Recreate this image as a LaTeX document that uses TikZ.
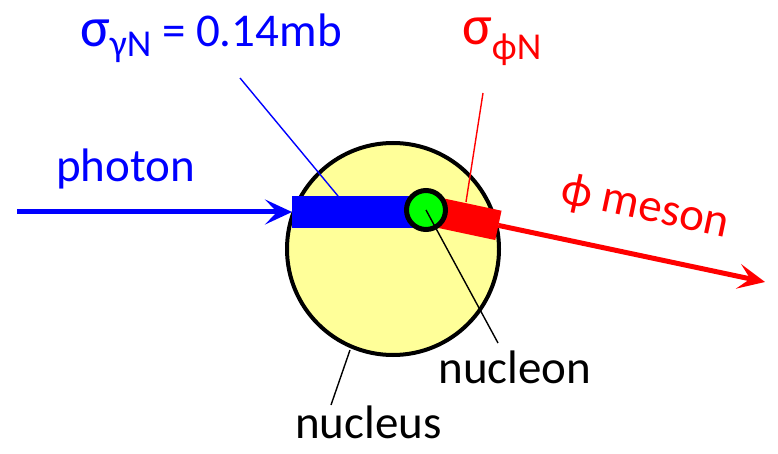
\documentclass[tikz,border=0pt]{standalone}
\usepackage{fontspec}
\setmainfont{Carlito}
\usetikzlibrary{arrows.meta}
\definecolor{nucyellow}{RGB}{255,255,153}
\definecolor{pblue}{RGB}{0,0,255}
\definecolor{pred}{RGB}{255,0,0}
\definecolor{pgreen}{RGB}{0,255,0}
\tikzset{
  lbl/.style={inner sep=0pt, font=\fontsize{47}{50}\selectfont},
  leader/.style={line width=1.4pt},
  bigarrow/.style={line width=5pt, -{Stealth[length=27pt,width=25pt,inset=12pt]}},
}
\begin{document}
\begin{tikzpicture}[x=1pt,y=-1pt]
\useasboundingbox (0,0) rectangle (778,454);
% nucleus
\node[circle, draw=black, line width=4pt, fill=nucyellow, minimum size=212pt, inner sep=0pt] (nucleus) at (393,249) {};
% coordinates
\coordinate (nc) at (426,210);
\coordinate (barL) at (292,212);
\coordinate (redend) at (498.4,225.4);
\coordinate (phiend) at (765,282);
\coordinate (start) at (17,212);
% blue bar
\fill[pblue] (292,196) rectangle (426,228);
% red bar
\draw[pred, line width=30pt] (nc) -- (redend);
% nucleon
\node[circle, draw=black, line width=5pt, fill=pgreen, minimum size=39pt, inner sep=0pt] (nucleon) at (nc) {};
% arrows
\draw[pblue, bigarrow] (start) -- (barL);
\draw[pred, bigarrow] (redend) -- (phiend);
% labels
\node[lbl, text=pblue, anchor=base] (photon) at (125.5,182) {photon};
\node[lbl, anchor=base] (nucleonlbl) at (515,383) {nucleon};
\node[lbl, anchor=base] (nucleuslbl) at (368.5,438) {nucleus};
\node[lbl, text=pred, rotate=-12] (philbl) at (645,208) {ϕ meson};
\node[inner sep=0pt, text=pblue, anchor=base west] (sigg) at (80,47)
  {{\fontsize{56}{60}\selectfont σ}\raisebox{-10pt}{\fontsize{38}{40}\selectfont γN}{\fontsize{47}{50}\selectfont{} = 0.14mb}};
\node[inner sep=0pt, text=pred, anchor=base west] (sigp) at (462,45)
  {{\fontsize{56}{60}\selectfont σ}\raisebox{-15pt}{\fontsize{38}{40}\selectfont ϕN}};
% leader lines
\coordinate (bl1) at (240,78);
\coordinate (bl2) at (338,196);
\coordinate (rl1) at (483,93);
\coordinate (rl2) at (466,202);
\coordinate (nl2) at (498,343);
\coordinate (ul1) at (350,350);
\coordinate (ul2) at (331,405);
\draw[pblue, leader] (bl1) -- (bl2);
\draw[pred, leader] (rl1) -- (rl2);
\draw[black, leader] (nucleon.center) -- (nl2);
\draw[black, leader] (ul1) -- (ul2);
\end{tikzpicture}
\end{document}
